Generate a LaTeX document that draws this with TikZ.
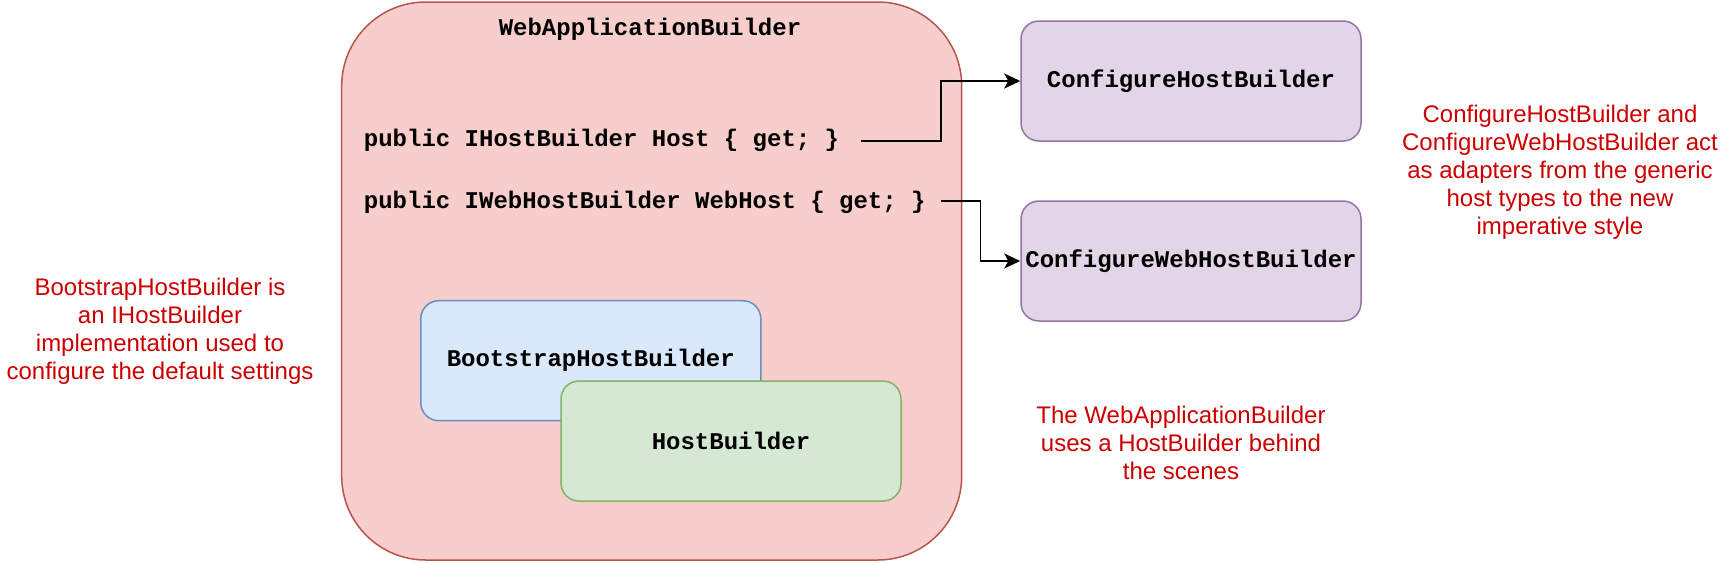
\documentclass[tikz,border=0pt]{standalone}
\usepackage{fontspec}
\setmainfont{Liberation Sans}
\setmonofont{Liberation Mono}
\usetikzlibrary{arrows.meta}
\definecolor{redfill}{HTML}{F8CECC}
\definecolor{redline}{HTML}{B85450}
\definecolor{bluefill}{HTML}{DAE8FC}
\definecolor{blueline}{HTML}{6C8EBF}
\definecolor{greenfill}{HTML}{D5E8D4}
\definecolor{greenline}{HTML}{82B366}
\definecolor{purplefill}{HTML}{E1D5E7}
\definecolor{purpleline}{HTML}{9673A6}
\definecolor{notered}{HTML}{CC0000}
\begin{document}
\begin{tikzpicture}[x=0.5pt,y=-0.5pt,
  code/.style={font=\ttfamily\bfseries\fontsize{12}{14}\selectfont, inner sep=0pt},
  box/.style={draw, line width=0.75pt, rounded corners=9pt, minimum width=170pt,
    minimum height=60pt, inner sep=0pt, code},
  note/.style={text=notered, align=center, inner sep=0pt, font=\fontsize{12}{14}\selectfont},
  arr/.style={draw, line width=0.9pt, -{Stealth[length=8pt,width=7.5pt,inset=2pt]}}]
\useasboundingbox (0,0) rectangle (1722,562);

\node[draw=redline, fill=redfill, line width=0.75pt, rounded corners=42pt,
  minimum width=310pt, minimum height=279pt] (wab) at (651.7,281) {};
\node[code] (title) at (650,29.5) {WebApplicationBuilder};
\node[code, anchor=west] (host) at (363.5,140) {public IHostBuilder Host \{ get; \}};
\node[code, anchor=west] (webhost) at (363.5,202) {public IWebHostBuilder WebHost \{ get; \}};

\node[box, fill=bluefill, draw=blueline] (bhb) at (590.8,360.7) {BootstrapHostBuilder};
\node[box, fill=greenfill, draw=greenline] (hb) at (731,441) {HostBuilder};

\node[box, fill=purplefill, draw=purpleline] (chb) at (1191,81) {ConfigureHostBuilder};
\node[box, fill=purplefill, draw=purpleline] (cwhb) at (1191,261) {ConfigureWebHostBuilder};

\coordinate (s1) at (860.7,140.7);
\coordinate (s2) at (941,201);
\draw[arr] (s1) -- (941,140.7) |- (chb.west);
\draw[arr] (s2) -- (980.5,201) |- (cwhb.west);

\node[note] (n1) at (1560,172.5) {ConfigureHostBuilder and\\ConfigureWebHostBuilder act\\as adapters from the generic\\host types to the new\\imperative style};
\node[note] (n2) at (160,331.5) {BootstrapHostBuilder is\\an IHostBuilder\\implementation used to\\configure the default settings};
\node[note] (n3) at (1181,443) {The WebApplicationBuilder\\uses a HostBuilder behind\\the scenes};
\end{tikzpicture}
\end{document}
